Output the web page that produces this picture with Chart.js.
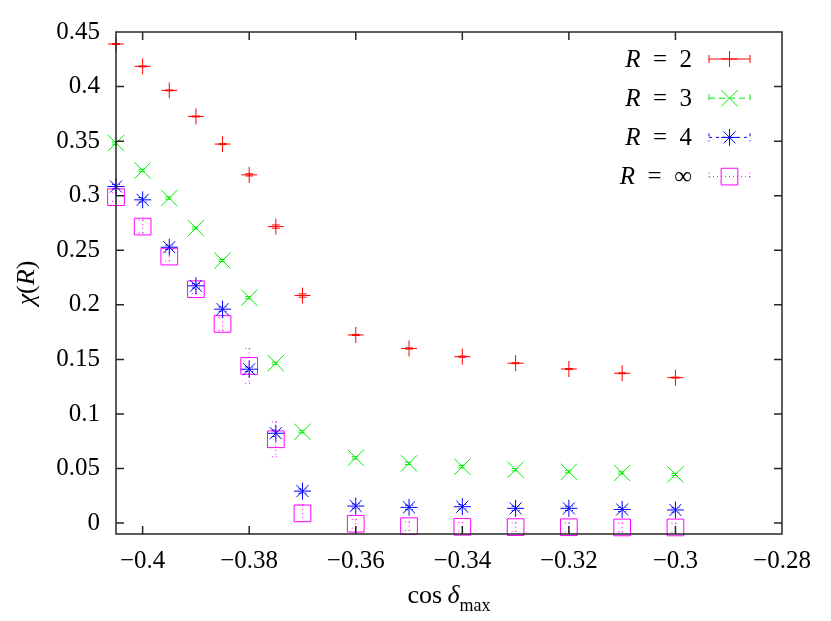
<!DOCTYPE html>
<html>
<head>
<meta charset="utf-8">
<title>chi(R) vs cos delta max</title>
<script src="https://cdn.jsdelivr.net/npm/chart.js@4.4.1/dist/chart.umd.min.js"></script>
<style>
  html, body { margin: 0; padding: 0; background: #fff; }
  #wrap { width: 831px; height: 621px; }
</style>
</head>
<body>
<div id="wrap"><canvas id="chiChart" width="831" height="621"></canvas></div>
<script>
'use strict';

// ***** DATA *****
let cosDelta = [-0.405, -0.4, -0.395, -0.39, -0.385, -0.38, -0.375, -0.37, -0.36, -0.35, -0.34, -0.33, -0.32, -0.31, -0.3];

let chiR2 = [0.439, 0.4185, 0.3965, 0.3726, 0.3473, 0.3191, 0.2717, 0.2085, 0.1724, 0.160, 0.1525, 0.1465, 0.1412, 0.1373, 0.1333];
let chiR3 = [0.3482, 0.3231, 0.2978, 0.2703, 0.2406, 0.2066, 0.1465, 0.0837, 0.0599, 0.0547, 0.0517, 0.0489, 0.047, 0.0459, 0.0446];
let chiR4 = [0.3084, 0.2962, 0.2528, 0.2174, 0.196, 0.141, 0.0823, 0.0293, 0.0156, 0.0144, 0.015, 0.0135, 0.0135, 0.0125, 0.012];
let chiInf = [0.2987, 0.2717, 0.2442, 0.2143, 0.1825, 0.144, 0.0768, 0.0089, -0.0006, -0.0028, -0.0034, -0.0037, -0.0038, -0.004, -0.004];

let errR2 = [0.0004, 0.0004, 0.0004, 0.0004, 0.0005, 0.001, 0.0015, 0.0015, 0.0005, 0.0005, 0.0005, 0.0004, 0.0004, 0.0004, 0.0004];
let errR3 = [0.001, 0.001, 0.001, 0.001, 0.001, 0.001, 0.001, 0.001, 0.001, 0.001, 0.001, 0.001, 0.001, 0.001, 0.001];
let errR4 = [0.002, 0.002, 0.002, 0.002, 0.002, 0.002, 0.003, 0.002, 0.002, 0.002, 0.002, 0.002, 0.002, 0.002, 0.002];
let errInf = [0.004, 0.006, 0.004, 0.004, 0.006, 0.016, 0.016, 0.0077, 0.004, 0.004, 0.004, 0.004, 0.004, 0.004, 0.004];

let legendValues = ['2', '3', '4', '\u221E'];

let xTicks = [-0.4, -0.38, -0.36, -0.34, -0.32, -0.3, -0.28];
let xTickLabels = ['\u22120.4', '\u22120.38', '\u22120.36', '\u22120.34', '\u22120.32', '\u22120.3', '\u22120.28'];
let yTicks = [0, 0.05, 0.1, 0.15, 0.2, 0.25, 0.3, 0.35, 0.4, 0.45];
let yTickLabels = ['0', '0.05', '0.1', '0.15', '0.2', '0.25', '0.3', '0.35', '0.4', '0.45'];

// ***** STYLE *****
const SERIF = '"Liberation Serif", "DejaVu Serif", serif';
const FRAME_COLOR = '#262626';
const TICK_LEN = 8;

// ***** HELPER FUNCTIONS *****
function makePoints(values){
  let pts = [];
  for(let i = 0; i < cosDelta.length; i++){
    pts.push({x: cosDelta[i], y: values[i]});
  }
  return pts;
}

function makeDataset(label, values, errs, color, style, radius, dash){
  return {
    label: label,
    data: makePoints(values),
    errors: errs,
    dash: dash,
    showLine: false,
    pointStyle: style,
    pointRadius: radius,
    pointHoverRadius: radius,
    pointBorderWidth: 1,
    pointHoverBorderWidth: 1,
    borderColor: color,
    backgroundColor: 'rgba(0,0,0,0)',
    clip: false
  };
}

// draws a run of text pieces, each {t, it, size, dy}
function drawMath(ctx, parts, x, y, align){
  let total = 0;
  for(let p of parts){
    ctx.font = (p.it ? 'italic ' : '') + (p.size || 25) + 'px ' + SERIF;
    p.w = ctx.measureText(p.t).width;
    total += p.w;
  }
  let cx = x;
  if(align === 'right'){ cx = x - total; }
  if(align === 'center'){ cx = x - total / 2; }
  for(let p of parts){
    ctx.font = (p.it ? 'italic ' : '') + (p.size || 25) + 'px ' + SERIF;
    ctx.fillText(p.t, cx, y + (p.dy || 0));
    cx += p.w;
  }
}

// ***** PLUGINS *****
const errorBarPlugin = {
  id: 'errorBars',
  beforeDatasetsDraw(chart){
    let ctx = chart.ctx;
    let xs = chart.scales.x;
    let ys = chart.scales.y;
    chart.data.datasets.forEach(function(ds){
      ctx.save();
      ctx.strokeStyle = ds.borderColor;
      ctx.lineWidth = 1;
      ctx.setLineDash(ds.dash);
      for(let i = 0; i < ds.data.length; i++){
        let px = xs.getPixelForValue(ds.data[i].x);
        let top = ys.getPixelForValue(ds.data[i].y + ds.errors[i]);
        let bot = ys.getPixelForValue(ds.data[i].y - ds.errors[i]);
        ctx.beginPath();
        ctx.moveTo(px, top); ctx.lineTo(px, bot);
        ctx.moveTo(px - 4, top); ctx.lineTo(px + 4, top);
        ctx.moveTo(px - 4, bot); ctx.lineTo(px + 4, bot);
        ctx.stroke();
      }
      ctx.restore();
    });
  }
};

const framePlugin = {
  id: 'frame',
  afterDraw(chart){
    let ctx = chart.ctx;
    let a = chart.chartArea;
    let xs = chart.scales.x;
    let ys = chart.scales.y;
    ctx.save();
    ctx.strokeStyle = FRAME_COLOR;
    ctx.lineWidth = 1.5;
    ctx.beginPath();
    ctx.rect(a.left, a.top, a.right - a.left, a.bottom - a.top);
    for(let t of xs.ticks){
      let px = xs.getPixelForValue(t.value);
      ctx.moveTo(px, a.bottom); ctx.lineTo(px, a.bottom - TICK_LEN);
      ctx.moveTo(px, a.top); ctx.lineTo(px, a.top + TICK_LEN);
    }
    for(let t of ys.ticks){
      let py = ys.getPixelForValue(t.value);
      ctx.moveTo(a.left, py); ctx.lineTo(a.left + TICK_LEN, py);
      ctx.moveTo(a.right, py); ctx.lineTo(a.right - TICK_LEN, py);
    }
    ctx.stroke();

    // axis titles
    ctx.fillStyle = '#000';
    ctx.textBaseline = 'alphabetic';
    drawMath(ctx, [
      {t: 'cos\u2009', it: false, size: 26},
      {t: '\u03B4', it: true, size: 26},
      {t: 'max', it: false, size: 18, dy: 8}
    ], (a.left + a.right) / 2, 603, 'center');

    ctx.save();
    ctx.translate(27, (a.top + a.bottom) / 2);
    ctx.rotate(-Math.PI / 2);
    ctx.textBaseline = 'middle';
    drawMath(ctx, [
      {t: '\u03C7', it: true, size: 26},
      {t: '(', it: false, size: 26},
      {t: 'R', it: true, size: 26},
      {t: ')', it: false, size: 26}
    ], 0, 0, 'center');
    ctx.restore();

    // key
    ctx.textBaseline = 'middle';
    chart.data.datasets.forEach(function(ds, i){
      let rowY = 59 + i * 39.2;
      ctx.fillStyle = '#000';
      drawMath(ctx, [
        {t: 'R', it: true},
        {t: '\u2002=\u2002' + legendValues[i], it: false}
      ], 692, rowY + 1, 'right');
      ctx.strokeStyle = ds.borderColor;
      ctx.lineWidth = 1;
      ctx.setLineDash(ds.dash);
      ctx.beginPath();
      ctx.moveTo(709, rowY); ctx.lineTo(750, rowY);
      ctx.moveTo(709, rowY - 4); ctx.lineTo(709, rowY + 4);
      ctx.moveTo(750, rowY - 4); ctx.lineTo(750, rowY + 4);
      ctx.stroke();
      ctx.setLineDash([]);
      ctx.fillStyle = 'rgba(0,0,0,0)';
      Chart.helpers.drawPoint(ctx, {
        pointStyle: ds.pointStyle,
        radius: ds.pointRadius,
        borderWidth: 1,
        rotation: 0
      }, 729.5, rowY);
    });
    ctx.restore();
  }
};

// ***** CHART *****
const canvasElem = document.getElementById('chiChart');

let chartObj = {
  type: 'scatter',
  data: {
    datasets: [
      makeDataset('R = 2', chiR2, errR2, '#ff0000', 'cross', 8, []),
      makeDataset('R = 3', chiR3, errR3, '#00ee00', 'crossRot', 11.5, [6, 4]),
      makeDataset('R = 4', chiR4, errR4, '#0000ff', 'star', 8.5, [3, 4]),
      makeDataset('R = \u221E', chiInf, errInf, '#ff00ff', 'rect', 11.8, [1, 3])
    ]
  },
  options: {
    responsive: false,
    animation: false,
    events: [],
    layout: {padding: {top: 32, right: 49, left: 0, bottom: 0}},
    plugins: {
      legend: {display: false},
      tooltip: {enabled: false}
    },
    scales: {
      x: {
        type: 'linear',
        min: -0.405,
        max: -0.28,
        grid: {display: false, drawTicks: false},
        border: {display: false},
        afterBuildTicks: function(scale){
          scale.ticks = xTicks.map(v => ({value: v}));
        },
        afterFit: function(scale){
          scale.height = 87;
        },
        ticks: {
          color: '#000',
          padding: 12,
          maxRotation: 0,
          font: {family: SERIF, size: 25},
          callback: function(value, index){
            return xTickLabels[index];
          }
        }
      },
      y: {
        type: 'linear',
        min: -0.01,
        max: 0.45,
        grid: {display: false, drawTicks: false},
        border: {display: false},
        afterBuildTicks: function(scale){
          scale.ticks = yTicks.map(v => ({value: v}));
        },
        afterFit: function(scale){
          scale.width = 116;
        },
        ticks: {
          color: '#000',
          padding: 16,
          font: {family: SERIF, size: 25},
          callback: function(value, index){
            return yTickLabels[index];
          }
        }
      }
    }
  },
  plugins: [errorBarPlugin, framePlugin]
};

new Chart(canvasElem, chartObj);
</script>
</body>
</html>
